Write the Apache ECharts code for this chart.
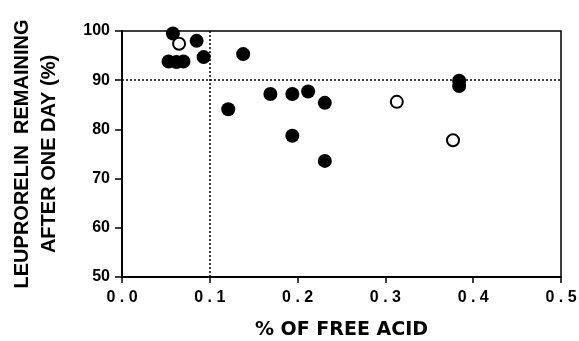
<!DOCTYPE html>
<html>
<head>
<meta charset="utf-8">
<script src="https://cdn.jsdelivr.net/npm/echarts@6/dist/echarts.min.js"></script>
<style>
  html, body { margin: 0; padding: 0; background: #fff; }
  #chart { width: 579px; height: 341px; }
</style>
</head>
<body>
<div id="chart"></div>
<script>
// filled circles
var filledX = [0.058, 0.085, 0.053, 0.062, 0.070, 0.093, 0.138, 0.121, 0.169, 0.194, 0.212, 0.231, 0.194, 0.231, 0.384, 0.384];
var filledY = [99.5, 98.0, 93.8, 93.7, 93.8, 94.7, 95.3, 84.1, 87.2, 87.2, 87.7, 85.4, 78.7, 73.6, 89.9, 88.8];
// open circles
var openX = [0.065, 0.313, 0.377];
var openY = [97.4, 85.6, 77.8];
// reference lines
var refX = 0.1;
var refY = 90;

var fnt = 'Liberation Sans, Arial, sans-serif';

function pairs(xs, ys) {
  var out = [];
  for (var i = 0; i < xs.length; i++) out.push([xs[i], ys[i]]);
  return out;
}

var chart = echarts.init(document.getElementById('chart'));
var option = {
  animation: false,
  grid: {
    left: 122, right: 18, top: 31, bottom: 64,
    outerBoundsMode: 'none',
    show: true, borderColor: '#000', borderWidth: 1.5
  },
  xAxis: {
    type: 'value', min: 0, max: 0.5, interval: 0.1,
    name: '% OF FREE ACID',
    nameLocation: 'middle', nameGap: 44,
    nameTextStyle: { color: '#000', fontFamily: 'DejaVu Sans', fontWeight: 'bold', fontSize: 19 },
    axisLine: { lineStyle: { color: '#000', width: 2 } },
    axisTick: { inside: false, length: 6, lineStyle: { color: '#000', width: 1.5 } },
    axisLabel: {
      color: '#000', fontFamily: fnt, fontWeight: 'bold', fontSize: 16, margin: 13,
      formatter: function (v) { return v.toFixed(1).split('').join(' '); }
    },
    splitLine: { show: false }
  },
  yAxis: {
    type: 'value', min: 50, max: 100, interval: 10,
    name: 'LEUPRORELIN  REMAINING\nAFTER ONE DAY (%)',
    nameLocation: 'middle', nameGap: 59, nameRotate: 90,
    nameTextStyle: {
      color: '#000', fontFamily: fnt,
      fontWeight: 'bold', fontSize: 20, lineHeight: 27
    },
    axisLine: { lineStyle: { color: '#000', width: 2 } },
    axisTick: { inside: false, length: 7, lineStyle: { color: '#000', width: 1.5 } },
    axisLabel: { color: '#000', fontFamily: fnt, fontWeight: 'bold', fontSize: 16, margin: 12 },
    splitLine: { show: false }
  },
  series: [
    {
      type: 'scatter',
      data: pairs(filledX, filledY),
      symbol: 'circle', symbolSize: 14,
      itemStyle: { color: '#000', opacity: 1 },
      z: 3,
      markLine: {
        silent: true, symbol: 'none',
        label: { show: false },
        lineStyle: { color: '#000', type: [2, 2], width: 1.5 },
        data: [{ xAxis: refX }, { yAxis: refY }]
      }
    },
    {
      type: 'scatter',
      data: pairs(openX, openY),
      symbol: 'circle', symbolSize: 12,
      itemStyle: { color: '#fff', borderColor: '#000', borderWidth: 2, opacity: 1 },
      z: 4
    }
  ]
};
chart.setOption(option);
</script>
</body>
</html>
